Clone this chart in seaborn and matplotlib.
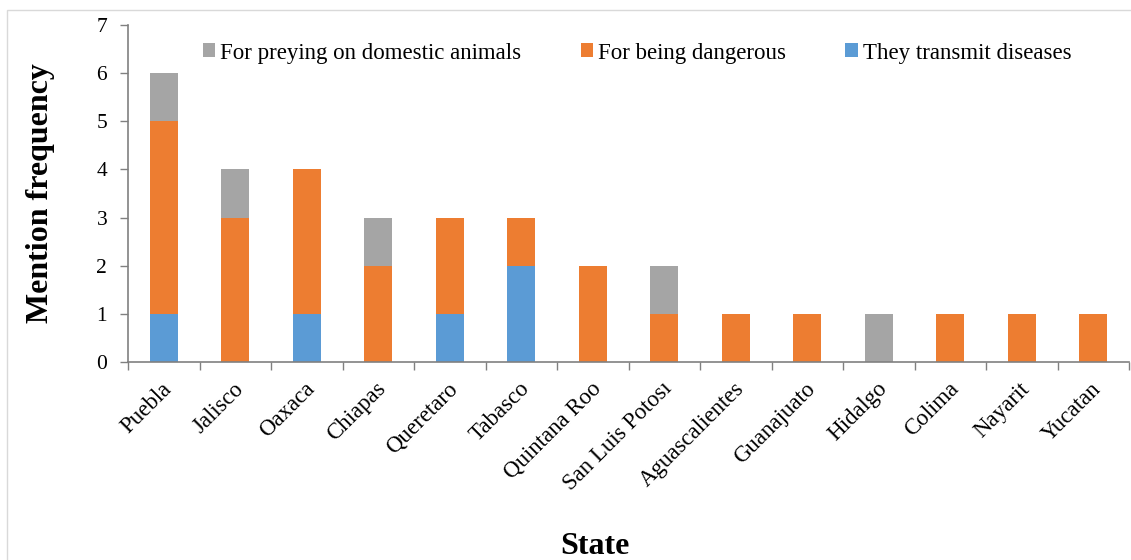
import matplotlib
matplotlib.use("Agg")
import matplotlib.pyplot as plt
import matplotlib.transforms as mtransforms
import seaborn as sns
import pandas as pd
import numpy as np
from matplotlib.patches import Rectangle, Patch
from matplotlib.ticker import FixedLocator

states = ["Puebla", "Jalisco", "Oaxaca", "Chiapas", "Queretaro", "Tabasco",
          "Quintana Roo", "San Luis Potosı", "Aguascalientes", "Guanajuato",
          "Hidalgo", "Colima", "Nayarit", "Yucatan"]
transmit_diseases = [1, 0, 1, 0, 1, 2, 0, 0, 0, 0, 0, 0, 0, 0]
being_dangerous = [4, 3, 3, 2, 2, 1, 2, 1, 1, 1, 0, 1, 1, 1]
preying_domestic = [1, 1, 0, 1, 0, 0, 0, 1, 0, 0, 1, 0, 0, 0]

labels = ["For preying on domestic animals", "For being dangerous",
          "They transmit diseases"]
colors = {"preying": "#A5A5A5", "dangerous": "#ED7D31", "disease": "#5B9BD5"}

df = pd.DataFrame({
    "state": states,
    "disease": transmit_diseases,
    "dangerous": being_dangerous,
    "preying": preying_domestic,
})
df["lvl2"] = df["disease"] + df["dangerous"]
df["lvl3"] = df["lvl2"] + df["preying"]

sns.set_theme(style="white")
plt.rcParams["font.family"] = ["Liberation Serif", "DejaVu Serif"]
plt.rcParams["text.color"] = "black"
plt.rcParams["axes.labelcolor"] = "black"
plt.rcParams["xtick.labelcolor"] = "black"
plt.rcParams["ytick.labelcolor"] = "black"

W, H = 1131, 560
fig = plt.figure(figsize=(W / 100, H / 100), dpi=100)
ax = fig.add_axes([128 / W, 1 - 362 / H, 1001 / W, 337 / H])

# stacked bars: draw cumulative totals back to front
bw = 0.39
sns.barplot(data=df, x="state", y="lvl3", color=colors["preying"], width=bw,
            saturation=1, ax=ax, linewidth=0)
sns.barplot(data=df, x="state", y="lvl2", color=colors["dangerous"], width=bw,
            saturation=1, ax=ax, linewidth=0)
sns.barplot(data=df, x="state", y="disease", color=colors["disease"], width=bw,
            saturation=1, ax=ax, linewidth=0)

ax.set_xlim(-0.5, len(states) - 0.5)
ax.set_ylim(0, 7)
ax.set_yticks(range(0, 8))
ax.tick_params(axis="y", labelsize=15.5, length=6, width=1, color="#808080",
               labelcolor="black", direction="out", left=True, pad=9)

# category boundary tick marks on the x axis
ax.xaxis.set_minor_locator(FixedLocator(np.arange(-0.5, len(states), 1.0)))
ax.tick_params(axis="x", which="major", length=0, labelsize=16.5, pad=17,
               labelcolor="black")
ax.tick_params(axis="x", which="minor", length=6, width=1, color="#808080",
               direction="out", bottom=True)
shift = mtransforms.ScaledTranslation(0.05, 0, fig.dpi_scale_trans)
for lab in ax.get_xticklabels():
    lab.set_rotation(45)
    lab.set_ha("right")
    lab.set_va("center")
    lab.set_rotation_mode("anchor")
    lab.set_transform(lab.get_transform() + shift)

for side in ["top", "right"]:
    ax.spines[side].set_visible(False)
for side in ["left", "bottom"]:
    ax.spines[side].set_color("#808080")
    ax.spines[side].set_linewidth(1.2)

ax.set_xlabel("")
ax.set_ylabel("")
fig.text(595 / W, 1 - 546 / H, "State", ha="center", va="center",
         fontsize=23, fontweight="bold", color="black")
fig.text(41 / W, 1 - 193 / H, "Mention frequency", ha="center", va="center",
         rotation=90, fontsize=23, fontweight="bold", color="black")

handles = [Patch(facecolor=colors[k], edgecolor="none")
           for k in ["preying", "dangerous", "disease"]]
fig.legend(handles, labels, loc="center", bbox_to_anchor=(637 / W, 1 - 53 / H),
           ncol=3, frameon=False, fontsize=16.5, handlelength=0.55,
           handleheight=0.55, handletextpad=0.2, columnspacing=2.6,
           borderpad=0, borderaxespad=0, labelcolor="black")

# light frame around the chart area
fig.patches.append(Rectangle((7 / W, -0.1), 1.2, 1 - 10 / H + 0.1,
                             transform=fig.transFigure, fill=False,
                             edgecolor="#D9D9D9", linewidth=1))

fig.savefig("out.png", dpi=100)
